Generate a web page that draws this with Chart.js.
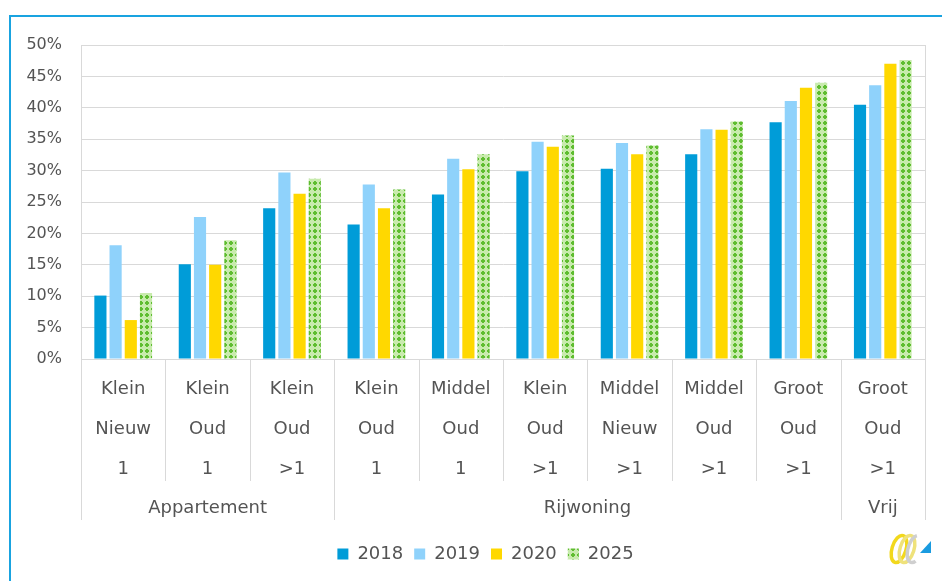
<!DOCTYPE html>
<html lang="nl">
<head>
  <meta charset="UTF-8">
  <title>Aandeel per woningtype</title>
  <script src="https://cdn.jsdelivr.net/npm/chart.js"></script>
  <style>
    body { margin: 0; background: #fff; }
    .frame {
      position: absolute; left: 9px; top: 15px; width: 933px; height: 566px;
      border-top: 2px solid #19a3e0; border-left: 2px solid #19a3e0;
    }
    #chart { position: absolute; left: 0; top: 0; }
  </style>
</head>
<body>
  <div class="frame"></div>
  <canvas id="chart" width="942" height="581"></canvas>

  <script>
    // woningtype labels (3 regels per categorie)
    const typeLabels = [
      ['Klein', 'Nieuw', '1'],
      ['Klein', 'Oud', '1'],
      ['Klein', 'Oud', '>1'],
      ['Klein', 'Oud', '1'],
      ['Middel', 'Oud', '1'],
      ['Klein', 'Oud', '>1'],
      ['Middel', 'Nieuw', '>1'],
      ['Middel', 'Oud', '>1'],
      ['Groot', 'Oud', '>1'],
      ['Groot', 'Oud', '>1']
    ];
    const groupNames = ['Appartement', 'Rijwoning', 'Vrij'];
    const groupSizes = [3, 6, 1];

    const years = ['2018', '2019', '2020', '2025'];
    const v2018 = [10.1, 15.1, 24.0, 21.4, 26.2, 29.9, 30.3, 32.6, 37.7, 40.5];
    const v2019 = [18.1, 22.6, 29.7, 27.8, 31.9, 34.6, 34.4, 36.6, 41.1, 43.6];
    const v2020 = [6.2, 15.0, 26.3, 24.0, 30.2, 33.8, 32.6, 36.5, 43.2, 47.0];
    const v2025 = [10.5, 18.9, 28.7, 27.0, 32.6, 35.6, 34.0, 37.8, 44.0, 47.6];

    const yTicks = [0, 5, 10, 15, 20, 25, 30, 35, 40, 45, 50];

    const textColor = '#545454';
    const lineColor = '#d9d9d9';
    const font = 'DejaVu Sans';

    // groen ruitjespatroon voor 2025
    function makePattern() {
      const c = document.createElement('canvas');
      c.width = 6; c.height = 6;
      const p = c.getContext('2d');
      p.fillStyle = '#c8ebad';
      p.fillRect(0, 0, 6, 6);
      p.fillStyle = '#5fbd30';
      p.fillRect(1, 2, 4, 2);
      p.fillRect(2, 1, 2, 4);
      return p.createPattern(c, 'repeat');
    }
    const green = makePattern();

    // scheidingslijnen, groepslabels en logo onder de as
    const groupAxis = {
      id: 'groupAxis',
      afterLayout(chart) {
        // legenda iets naar rechts, zoals in het origineel
        chart.legend.left += 23;
        chart.legend.right += 23;
      },
      afterDraw(chart) {
        const { ctx, chartArea: a, scales: { x } } = chart;
        const half = (x.getPixelForValue(1) - x.getPixelForValue(0)) / 2;
        const innerBottom = a.bottom + 122;
        const outerBottom = a.bottom + 161;

        const edges = [0];
        groupSizes.forEach(s => edges.push(edges[edges.length - 1] + s));

        ctx.save();
        ctx.strokeStyle = lineColor;
        ctx.lineWidth = 1;
        for (let i = 0; i <= typeLabels.length; i++) {
          const px = Math.round(x.getPixelForValue(i) - half) + 0.5;
          const bottom = edges.includes(i) ? outerBottom : innerBottom;
          ctx.beginPath();
          ctx.moveTo(px, a.bottom);
          ctx.lineTo(px, bottom);
          ctx.stroke();
        }
        // rechterrand plotgebied
        const r = Math.round(a.right) + 0.5;
        ctx.beginPath();
        ctx.moveTo(r, a.top);
        ctx.lineTo(r, a.bottom);
        ctx.stroke();

        ctx.fillStyle = textColor;
        ctx.font = '18px "' + font + '"';
        ctx.textAlign = 'center';
        ctx.textBaseline = 'middle';
        groupNames.forEach((name, g) => {
          const left = x.getPixelForValue(edges[g]) - half;
          const right = x.getPixelForValue(edges[g + 1]) - half;
          ctx.fillText(name, (left + right) / 2, a.bottom + 149);
        });

        // klein logo rechtsonder
        ctx.lineWidth = 3.5;
        ctx.strokeStyle = '#f2d81c';
        ctx.beginPath();
        ctx.ellipse(899, 549, 7, 14, 0.3, 0, Math.PI * 2);
        ctx.stroke();
        ctx.strokeStyle = '#efe27a';
        ctx.beginPath();
        ctx.ellipse(907, 549, 7, 14, 0.3, 0, Math.PI * 2);
        ctx.stroke();
        ctx.strokeStyle = '#cfcfcf';
        ctx.beginPath();
        ctx.ellipse(915, 549, 7, 14, 0.3, Math.PI * 0.3, Math.PI * 1.4);
        ctx.stroke();
        ctx.fillStyle = '#1a9be0';
        ctx.beginPath();
        ctx.moveTo(920, 553);
        ctx.lineTo(931, 553);
        ctx.lineTo(931, 541);
        ctx.closePath();
        ctx.fill();
        ctx.restore();
      }
    };

    new Chart(document.getElementById('chart'), {
      type: 'bar',
      data: {
        labels: typeLabels,
        datasets: [
          { label: years[0], data: v2018, backgroundColor: '#009cd8' },
          { label: years[1], data: v2019, backgroundColor: '#8fd2fb' },
          { label: years[2], data: v2020, backgroundColor: '#ffd800' },
          { label: years[3], data: v2025, backgroundColor: green }
        ]
      },
      options: {
        responsive: false,
        animation: false,
        layout: { padding: { left: 0, right: 17, top: 45, bottom: 8 } },
        datasets: { bar: { categoryPercentage: 0.72, barPercentage: 0.8 } },
        scales: {
          x: {
            grid: { display: false },
            border: { display: true, color: lineColor },
            ticks: {
              color: textColor,
              font: { family: font, size: 18, lineHeight: 2.2 },
              padding: 3,
              maxRotation: 0,
              autoSkip: false
            },
            afterFit(scale) { scale.height = 175; }
          },
          y: {
            min: 0,
            max: 50,
            afterBuildTicks(scale) { scale.ticks = yTicks.map(v => ({ value: v })); },
            grid: { color: lineColor, drawTicks: false },
            border: { display: true, color: lineColor },
            ticks: {
              color: textColor,
              font: { family: font, size: 16 },
              padding: 19,
              callback: v => v + '%'
            },
            afterFit(scale) { scale.width = 81; }
          }
        },
        plugins: {
          tooltip: { enabled: false },
          legend: {
            position: 'bottom',
            labels: {
              color: textColor,
              font: { family: font, size: 18 },
              boxWidth: 11,
              boxHeight: 11,
              padding: 11
            }
          }
        }
      },
      plugins: [groupAxis]
    });
  </script>
</body>
</html>
